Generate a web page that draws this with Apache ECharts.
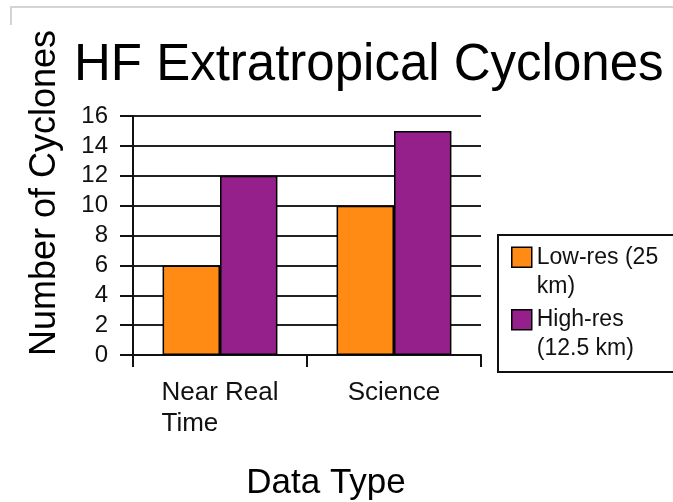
<!DOCTYPE html>
<html>
<head>
<meta charset="utf-8">
<script src="https://cdn.jsdelivr.net/npm/echarts@6/dist/echarts.min.js"></script>
<style>
  html, body { margin: 0; padding: 0; background: #fff; overflow: hidden; }
  #chart { width: 673px; height: 502px; position: relative; }
  #frame { position: absolute; left: 10px; top: 6px; right: 0; height: 17px;
           border-top: 2px solid #d4d4d4; border-left: 2px solid #d4d4d4; pointer-events: none; }
  /* legend frame: open on the right, where it runs off the page */
  #legendFrame { position: absolute; left: 497px; top: 234px; width: 176px; height: 139px;
                 box-sizing: border-box; border: 2px solid #111; border-right: none;
                 pointer-events: none; }
</style>
</head>
<body>
<div id="chart"></div>
<div id="frame"></div>
<div id="legendFrame"></div>
<script>
// Chart data
const categories = ['Near Real\nTime', 'Science'];
const lowRes = [6, 10];
const highRes = [12, 15];
const seriesNames = ['Low-res (25\nkm)', 'High-res\n(12.5 km)'];
const yTicks = { min: 0, max: 16, step: 2 };

const FONT = '"Liberation Sans", Arial, Helvetica, sans-serif';
const INK = '#111';
const colors = ['#FF8A14', '#951F8B'];

// Legend swatch: a 20x20 square sitting level with the first text line.
// The two bare move-to points stretch the icon box to the full item height.
const LEGEND_ROW = 29;
const swatchIcon = 'path://M0,0M20,58M0,4.5L20,4.5L20,24.5L0,24.5Z';

const chart = echarts.init(document.getElementById('chart'), null, { renderer: 'canvas' });

chart.setOption({
  animation: false,
  backgroundColor: '#fff',
  title: {
    text: 'HF Extratropical Cyclones',
    left: 74,
    top: 40,
    padding: 0,
    textStyle: { fontFamily: FONT, fontSize: 51, fontWeight: 'normal', color: '#000' }
  },
  grid: { left: 133, right: 192, top: 116, bottom: 146, containLabel: false },
  legend: {
    orient: 'vertical',
    left: 498,
    top: 235,
    padding: [7, 5, 5, 13],
    borderWidth: 0,
    itemWidth: 20,
    itemHeight: LEGEND_ROW * 2,
    itemGap: 3,
    icon: swatchIcon,
    symbolKeepAspect: false,
    itemStyle: { borderColor: '#000', borderWidth: 1.5 },
    textStyle: { fontFamily: FONT, fontSize: 23, lineHeight: LEGEND_ROW, color: INK },
    data: seriesNames
  },
  xAxis: {
    type: 'category',
    data: categories,
    name: 'Data Type',
    nameLocation: 'middle',
    nameGap: 111,
    nameTextStyle: { fontFamily: FONT, fontSize: 35, color: '#000', padding: [0, 0, 0, 38] },
    axisLine: { lineStyle: { color: '#111', width: 2 } },
    axisTick: { show: true, length: 12, interval: 0, lineStyle: { color: '#111', width: 2 } },
    axisLabel: {
      interval: 0,
      margin: 22,
      fontFamily: FONT,
      fontSize: 26,
      lineHeight: 31,
      color: INK,
      formatter: v => v.indexOf('\n') >= 0 ? '{w|' + v + '}' : v,
      rich: { w: { width: 117, align: 'left', fontFamily: FONT, fontSize: 26, lineHeight: 31, color: INK } }
    }
  },
  yAxis: {
    type: 'value',
    min: yTicks.min,
    max: yTicks.max,
    interval: yTicks.step,
    name: 'Number of Cyclones',
    nameLocation: 'middle',
    nameRotate: 90,
    nameGap: 70,
    nameTextStyle: { fontFamily: FONT, fontSize: 36, color: '#000', padding: [0, 0, 0, 85] },
    axisLine: { show: true, lineStyle: { color: '#111', width: 2 } },
    axisTick: { show: true, length: 13, lineStyle: { color: '#111', width: 2 } },
    splitLine: { show: true, lineStyle: { color: '#222', width: 2 } },
    axisLabel: { margin: 25, fontFamily: FONT, fontSize: 24, color: INK }
  },
  series: [
    {
      name: seriesNames[0],
      type: 'bar',
      data: lowRes,
      barGap: '0%',
      barCategoryGap: '34%',
      itemStyle: { color: colors[0], borderColor: '#000', borderWidth: 1.5 }
    },
    {
      name: seriesNames[1],
      type: 'bar',
      data: highRes,
      barGap: '0%',
      barCategoryGap: '34%',
      itemStyle: { color: colors[1], borderColor: '#000', borderWidth: 1.5 }
    }
  ]
});
</script>
</body>
</html>
